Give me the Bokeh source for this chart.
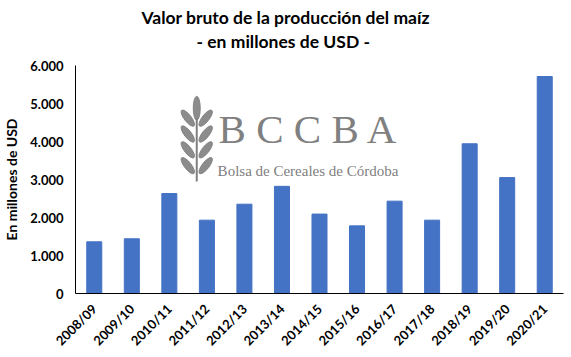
import math
from bokeh.plotting import figure
from bokeh.models import Range1d, FactorRange, FixedTicker, Label, Title, ColumnDataSource
from bokeh.embed import file_html
from bokeh.resources import INLINE

campanas = ["2008/09", "2009/10", "2010/11", "2011/12", "2012/13", "2013/14", "2014/15",
            "2015/16", "2016/17", "2017/18", "2018/19", "2019/20", "2020/21"]
valores = [1360, 1440, 2630, 1930, 2350, 2820, 2090, 1780, 2430, 1930, 3940, 3050, 5710]
y_ticks = [0, 1000, 2000, 3000, 4000, 5000, 6000]
y_tick_labels = ["0", "1.000", "2.000", "3.000", "4.000", "5.000", "6.000"]
titulo = "Valor bruto de la producción del maíz"
subtitulo = "- en millones de USD -"
eje_y = "En millones de USD"

FONT = "Lato"
BAR = "#4472C4"
GRAY = "#808080"

p = figure(width=571, height=357, output_backend="svg", toolbar_location=None,
           x_range=FactorRange(*campanas, range_padding=0), y_range=Range1d(0, 6000),
           min_border_left=4, min_border_right=8, min_border_bottom=62, min_border_top=65)
p.outline_line_color = None
p.xgrid.grid_line_color = None
p.ygrid.grid_line_color = None

src = ColumnDataSource(dict(x=campanas, y=valores))
p.vbar(x="x", top="y", width=0.4, source=src, color=BAR)

# pixel -> synthetic data coordinates (for watermark decoration)
def px_x(px):
    return (px - 73) / 37.77
def px_y(py):
    return (295.3 - py) / 0.03843

leaf_x, leaf_y, leaf_a = [], [], []
for k in range(4):
    yy = 118 + k * 16
    leaf_x += [px_x(186), px_x(204)]
    leaf_y += [px_y(yy), px_y(yy)]
    leaf_a += [math.radians(128), math.radians(52)]
p.ellipse(x=leaf_x, y=leaf_y, width=20, height=7, angle=leaf_a, width_units="screen",
          height_units="screen", color=GRAY, alpha=0.9)
p.ellipse(x=[px_x(195)], y=[px_y(108)], width=7, height=24, width_units="screen",
          height_units="screen", color=GRAY, alpha=0.9)
p.segment(x0=[px_x(195)], y0=[px_y(118)], x1=[px_x(195)], y1=[px_y(182)], line_color=GRAY, line_width=2)

p.add_layout(Label(x=px_x(217), y=px_y(152), text="B C C B A", text_font="Liberation Serif",
                   text_font_size="41px", text_color=GRAY))
p.add_layout(Label(x=px_x(216), y=px_y(179), text="Bolsa de Cereales de Córdoba",
                   text_font="Liberation Serif", text_font_size="15px", text_color=GRAY))

p.yaxis.ticker = FixedTicker(ticks=y_ticks)
p.yaxis.major_label_overrides = {t: l for t, l in zip(y_ticks, y_tick_labels)}
p.yaxis.axis_label = eje_y
for ax in (p.xaxis, p.yaxis):
    ax.axis_line_color = "black"
    ax.major_tick_line_color = None
    ax.minor_tick_line_color = None
    ax.major_label_text_font = FONT
    ax.major_label_text_font_style = "bold"
    ax.major_label_text_color = "black"
    ax.axis_label_text_font = FONT
    ax.axis_label_text_font_style = "bold"
    ax.axis_label_text_color = "black"
p.yaxis.major_label_text_font_size = "13px"
p.yaxis.axis_label_text_font_size = "14px"
p.yaxis.major_label_standoff = 6
p.yaxis.axis_label_standoff = 7
p.xaxis.major_label_text_font_size = "13px"
p.xaxis.major_label_orientation = math.pi / 4
p.xaxis.major_label_standoff = 7

t2 = Title(text=subtitulo, align="left", offset=121, text_font=FONT,
           text_font_size="17.5px", text_font_style="bold", text_color="black", standoff=27)
p.add_layout(t2, "above")
t1 = Title(text=titulo, align="left", offset=66, text_font=FONT,
           text_font_size="17.5px", text_font_style="bold", text_color="black", standoff=-24)
p.add_layout(t1, "above")

open("out.html", "w").write(file_html(p, INLINE))
